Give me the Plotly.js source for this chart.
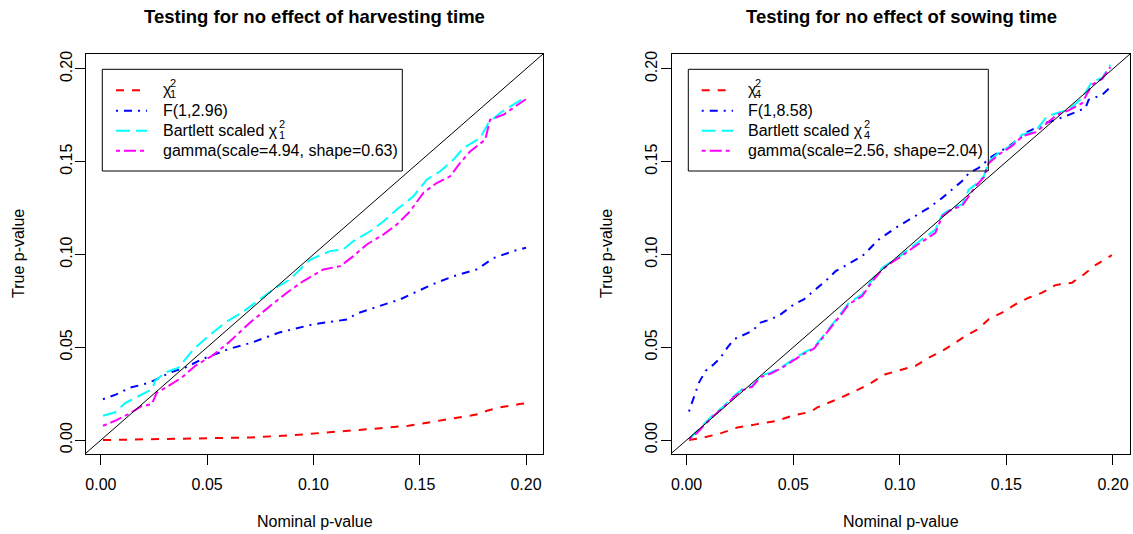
<!DOCTYPE html>
<html>
<head>
<meta charset="utf-8">
<script src="https://cdn.plot.ly/plotly-3.0.1.min.js"></script>
<style>html,body{margin:0;padding:0;background:#fff;}#chart{width:1133px;height:534px;}</style>
</head>
<body>
<div id="chart"></div>
<script>
// ---------- data: harvesting time (left panel) ----------
const chiX_h = [0.001,0.02,0.04,0.06,0.0702,0.09,0.1078,0.125,0.1447,0.16,0.172,0.178,0.1816,0.1878,0.197,0.2];
const chiY_h = [0,0.0003,0.0007,0.0012,0.0014,0.0026,0.0041,0.0058,0.0077,0.0105,0.0131,0.014,0.0158,0.0176,0.0194,0.0198];
const fX_h = [0.001,0.007,0.0138,0.02,0.0246,0.0326,0.0397,0.0475,0.06,0.071,0.084,0.1,0.116,0.12,0.131,0.1408,0.156,0.166,0.177,0.1846,0.194,0.2];
const fY_h = [0.022,0.0245,0.0283,0.03,0.0319,0.0364,0.039,0.0435,0.049,0.0525,0.058,0.0624,0.065,0.068,0.0722,0.0758,0.0839,0.0883,0.092,0.098,0.1018,0.1036];
const bartX_h = [0.001,0.0067,0.0114,0.0193,0.024,0.0255,0.0302,0.0365,0.0436,0.0506,0.0585,0.0663,0.0717,0.0812,0.089,0.0985,0.1078,0.1141,0.1188,0.1267,0.133,0.1392,0.147,0.1533,0.1596,0.1659,0.1706,0.1784,0.1823,0.1878,0.1925,0.2];
const bartY_h = [0.0131,0.015,0.0199,0.0247,0.0274,0.0319,0.0364,0.039,0.0489,0.056,0.0633,0.0687,0.0731,0.0812,0.0866,0.0973,0.1018,0.1027,0.1072,0.1125,0.1179,0.1242,0.1313,0.1403,0.1448,0.1511,0.1574,0.1627,0.1708,0.1762,0.1797,0.1848];
const gamX_h = [0.001,0.0067,0.013,0.0193,0.024,0.0263,0.0318,0.0381,0.0444,0.0522,0.06,0.0679,0.0702,0.0796,0.0875,0.0953,0.1047,0.1126,0.1188,0.1251,0.133,0.1392,0.1455,0.1517,0.158,0.1643,0.169,0.1737,0.1808,0.1831,0.1894,0.1949,0.2];
const gamY_h = [0.0077,0.0104,0.014,0.0184,0.0194,0.0256,0.0292,0.0337,0.04,0.0453,0.0525,0.0606,0.0633,0.0722,0.0794,0.0857,0.0919,0.0937,0.0991,0.1054,0.1108,0.1161,0.1233,0.1332,0.1385,0.1421,0.1493,0.1555,0.1618,0.1726,0.1753,0.1797,0.1837];

// ---------- data: sowing time (right panel) ----------
const chiX_s = [0.0011,0.0081,0.0159,0.0238,0.0331,0.0425,0.0503,0.0581,0.0613,0.0675,0.0719,0.0792,0.0855,0.0933,0.1011,0.1074,0.1136,0.1199,0.1261,0.1308,0.137,0.1417,0.148,0.1542,0.1605,0.1668,0.173,0.1808,0.1863,0.1918,0.1995];
const chiY_s = [0,0.0014,0.0036,0.0068,0.0086,0.0104,0.0134,0.0152,0.0176,0.0203,0.0226,0.0265,0.0301,0.0355,0.0382,0.04,0.0444,0.048,0.0525,0.0561,0.06,0.0651,0.0687,0.0731,0.0767,0.0794,0.0835,0.0848,0.0892,0.0943,0.0996];
const fX_s = [0.0011,0.0027,0.0058,0.0089,0.0128,0.0159,0.0191,0.0222,0.0261,0.0308,0.0347,0.0394,0.0441,0.0503,0.055,0.0597,0.066,0.0699,0.0824,0.0902,0.098,0.1066,0.1136,0.1199,0.1246,0.13,0.1324,0.137,0.1433,0.1511,0.16,0.1683,0.1777,0.1871,0.1886,0.1949,0.1983];
const fY_s = [0.0154,0.0211,0.031,0.0373,0.0409,0.0444,0.0498,0.0543,0.0565,0.0588,0.0633,0.065,0.0677,0.0731,0.0758,0.0803,0.0866,0.091,0.0991,0.1081,0.1143,0.1203,0.1251,0.1305,0.1349,0.1403,0.1439,0.1466,0.1529,0.1582,0.166,0.1708,0.1744,0.1789,0.1833,0.186,0.1896];
const bgX_s = [0.0011,0.005,0.0089,0.0128,0.0175,0.0222,0.0261,0.0308,0.0347,0.0394,0.0441,0.0503,0.055,0.0597,0.0628,0.0667,0.0714,0.0761,0.0824,0.0871,0.0918,0.0964,0.1011,0.105,0.1105,0.1167,0.1199,0.1246,0.1293,0.1324,0.1355,0.1394,0.1417,0.1464,0.1527,0.1574,0.1636,0.1691,0.1738,0.1792,0.1855,0.1902,0.1949,0.1988];
const bartY_s = [0.0005,0.005,0.0095,0.014,0.0184,0.0238,0.0274,0.0292,0.0346,0.0364,0.039,0.0435,0.0471,0.0498,0.0543,0.0597,0.0668,0.074,0.0785,0.0866,0.0928,0.0964,0.1,0.1036,0.1081,0.1134,0.1215,0.1251,0.1269,0.1349,0.1376,0.1421,0.1502,0.1547,0.1591,0.1645,0.1663,0.1744,0.1762,0.178,0.1842,0.1932,0.195,0.2022];
const gamY_s = [0.0003,0.004,0.0088,0.0132,0.0178,0.0232,0.0268,0.0288,0.034,0.0358,0.0385,0.0428,0.0465,0.0492,0.0535,0.059,0.066,0.0732,0.0776,0.0855,0.092,0.0958,0.0993,0.1027,0.107,0.1116,0.1206,0.1245,0.1262,0.1313,0.1367,0.1415,0.1492,0.1538,0.1585,0.1636,0.1658,0.1708,0.1753,0.1776,0.1815,0.1915,0.1946,0.201];

const diagXY = [-0.01, 0.21];
const tickVals = [0, 0.05, 0.1, 0.15, 0.2];
const tickText = ["0.00", "0.05", "0.10", "0.15", "0.20"];

const titles = ["Testing for no effect of harvesting time", "Testing for no effect of sowing time"];
const xTitle = "Nominal p-value";
const yTitle = "True p-value";
const legendLeft = ["F(1,2.96)", "Bartlett scaled χ", "gamma(scale=4.94, shape=0.63)"];
const legendRight = ["F(1,8.58)", "Bartlett scaled χ", "gamma(scale=2.56, shape=2.04)"];
const dfLeft = "1", dfRight = "4";

// ---------- styles ----------
const W = 1133, H = 534;
const FONT = "Liberation Sans, Arial, Helvetica, sans-serif";
const styles = [
  {color: "#FF0000", dash: "8px,8px"},
  {color: "#0000FF", dash: "2px,6px,8px,6px"},
  {color: "#00FFFF", dash: "14px,6px"},
  {color: "#FF00FF", dash: "4px,4px,12px,4px"}
];
const px = v => v / W;
const py = v => 1 - v / H;

function tr(x, y, s, xa, ya) {
  return {x: x, y: y, type: "scatter", mode: "lines", xaxis: xa, yaxis: ya,
    line: {color: s.color, width: 2, dash: s.dash}, hoverinfo: "skip", showlegend: false};
}
const data = [
  tr(chiX_h, chiY_h, styles[0], "x", "y"),
  tr(fX_h, fY_h, styles[1], "x", "y"),
  tr(bartX_h, bartY_h, styles[2], "x", "y"),
  tr(gamX_h, gamY_h, styles[3], "x", "y"),
  {x: diagXY, y: diagXY, type: "scatter", mode: "lines", xaxis: "x", yaxis: "y", line: {color: "#000", width: 1}, showlegend: false, hoverinfo: "skip"},
  tr(chiX_s, chiY_s, styles[0], "x2", "y2"),
  tr(fX_s, fY_s, styles[1], "x2", "y2"),
  tr(bgX_s, bartY_s, styles[2], "x2", "y2"),
  tr(bgX_s, gamY_s, styles[3], "x2", "y2"),
  {x: diagXY, y: diagXY, type: "scatter", mode: "lines", xaxis: "x2", yaxis: "y2", line: {color: "#000", width: 1}, showlegend: false, hoverinfo: "skip"}
];

function xax(dom, anchor) {
  return {domain: dom, anchor: anchor, range: [-0.007, 0.208], tickvals: tickVals, ticktext: tickText,
    ticks: "outside", ticklen: 10, tickwidth: 1, tickcolor: "#000", showline: true, mirror: true,
    linecolor: "#000", linewidth: 1, showgrid: false, zeroline: false,
    tickfont: {family: FONT, size: 16, color: "#000"}, ticklabelstandoff: 6};
}
function yax(anchor) {
  return {domain: [80/534, 480/534], anchor: anchor, range: [-0.0075, 0.208], tickvals: tickVals, ticktext: tickText,
    ticks: "outside", ticklen: 10, tickwidth: 1, tickcolor: "#000", showline: true, mirror: true,
    linecolor: "#000", linewidth: 1, showgrid: false, zeroline: false, tickangle: -90,
    tickfont: {family: FONT, size: 16, color: "#000"}, ticklabelstandoff: -3};
}

const shapes = [];
const ann = [];
function txt(x, y, t, opts) {
  ann.push(Object.assign({xref: "paper", yref: "paper", x: px(x), y: py(y), text: t, showarrow: false,
    xanchor: "left", yanchor: "middle", font: {family: FONT, size: 16, color: "#000"}}, opts || {}));
}

const panels = [
  {cx: 314.5, boxL: 102.3, boxR: 402.3, segL: 116, segR: 147, textL: 160.7, ylab: 18, legend: legendLeft, df: dfLeft},
  {cx: 901, boxL: 688.3, boxR: 988.3, segL: 701.7, segR: 733, textL: 745.7, ylab: 606, legend: legendRight, df: dfRight}
];
const rows = [90.2, 110.7, 130.7, 150.8];
panels.forEach((p, i) => {
  txt(p.cx, 17, "<b>" + titles[i] + "</b>", {xanchor: "center", font: {family: FONT, size: 18.5, color: "#000"}});
  txt(p.cx, 521, xTitle, {xanchor: "center"});
  txt(p.ylab, 254, yTitle, {xanchor: "center", textangle: -90});
  shapes.push({type: "rect", xref: "paper", yref: "paper", x0: px(p.boxL), x1: px(p.boxR), y0: py(69.3), y1: py(171),
    line: {color: "#000", width: 1}, fillcolor: "rgba(0,0,0,0)", layer: "above"});
  rows.forEach((r, k) => {
    shapes.push({type: "line", xref: "paper", yref: "paper", x0: px(p.segL), x1: px(p.segR), y0: py(r), y1: py(r),
      line: {color: styles[k].color, width: 2, dash: styles[k].dash}, layer: "above"});
  });
  // row 1: chi-square symbol with stacked super/subscript
  txt(p.textL, 89.5, "χ");
  txt(p.textL + 7, 83.3, "2", {font: {family: FONT, size: 11, color: "#000"}});
  txt(p.textL + 7, 94.5, p.df, {font: {family: FONT, size: 11, color: "#000"}});
  txt(p.textL, rows[1], p.legend[0]);
  txt(p.textL, rows[2], p.legend[1]);
  txt(p.textL + 116, 124.2, "2", {font: {family: FONT, size: 11, color: "#000"}});
  txt(p.textL + 116, 135.2, p.df, {font: {family: FONT, size: 11, color: "#000"}});
  txt(p.textL, rows[3], p.legend[2]);
});

const layout = {
  width: W, height: H, margin: {l: 0, r: 0, t: 0, b: 0},
  paper_bgcolor: "#fff", plot_bgcolor: "#fff", showlegend: false,
  font: {family: FONT, color: "#000"},
  xaxis: xax([86/1133, 543/1133], "y"),
  yaxis: yax("x"),
  xaxis2: xax([671.7/1133, 1130/1133], "y2"),
  yaxis2: yax("x2"),
  shapes: shapes, annotations: ann
};
Plotly.newPlot("chart", data, layout, {displayModeBar: false, staticPlot: true});
</script>
</body>
</html>
